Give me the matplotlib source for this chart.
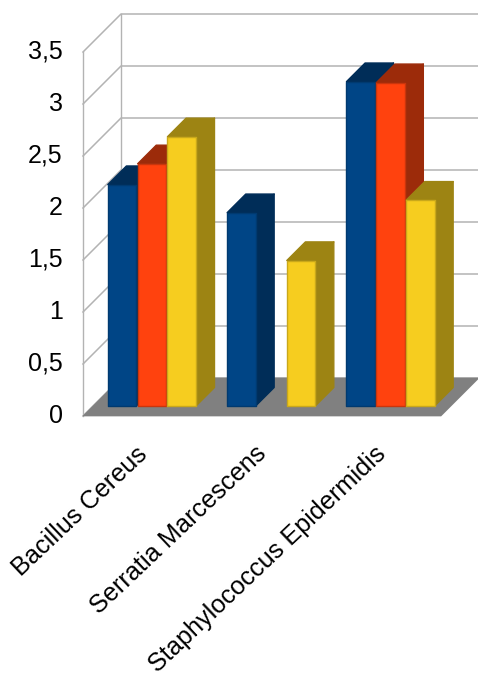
import matplotlib
matplotlib.use("Agg")
import matplotlib.pyplot as plt
import numpy as np
from matplotlib.patches import Polygon

plt.rcParams['font.family'] = ['Liberation Sans', 'DejaVu Sans']

# values per species and staining series, gap where nothing was measured
categories = ['Bacillus Cereus', 'Serratia Marcescens', 'Staphylococcus Epidermidis']
series_a = [2.13, 1.86, 3.12]
series_b = [2.33, np.nan, 3.11]
series_c = [2.59, 1.40, 1.98]
y_ticks = [0, 0.5, 1, 1.5, 2, 2.5, 3, 3.5]
y_tick_labels = ['0', '0,5', '1', '1,5', '2', '2,5', '3', '3,5']

face_colors = ['#004586', '#ff420e', '#f6cd1f']
shade_colors = ['#002d58', '#9c2b0a', '#9d8413']
edge_colors = ['#003a70', '#c9350c', '#c9a81a']

W, H = 478, 677
fig = plt.figure(figsize=(W / 100, H / 100), dpi=100)
# the axes frame is the front plane of the 3D box
ax = fig.add_axes([83 / W, 1 - 416 / H, 358 / W, 364 / H])
ax.set_xlim(0, 3)
ax.set_ylim(0, 3.5)
ax.axis('off')

# depth of the box in data units along each axis (38 px on screen)
DX = 38 / (358 / 3)
DY = 38 / (364 / 3.5)


def proj(x, y, d=0.0):
    return (x + d * DX, y + d * DY)


def poly(points, **kw):
    p = Polygon(points, closed=True, clip_on=False, **kw)
    ax.add_patch(p)


grid_color = '#b3b3b3'
for v in y_ticks:
    ax.plot(*zip(proj(0, v, 0), proj(0, v, 1), proj(3, v, 1)),
            color=grid_color, lw=1.1, clip_on=False, zorder=1)
ax.plot(*zip(proj(0, 0, 0), proj(0, 3.5, 0)), color=grid_color, lw=1.0, clip_on=False, zorder=1)
ax.plot(*zip(proj(0, 0, 1), proj(0, 3.5, 1)), color=grid_color, lw=1.0, clip_on=False, zorder=1)

# floor
poly([proj(0, 0, 0), proj(3, 0, 0), proj(3, 0, 1), proj(0, 0, 1)],
     facecolor='#808080', edgecolor='#808080', lw=0.5, zorder=2)

# bars stand in the middle of the depth, between d0 and d1
bar_pitch = 0.25
bar_w = 0.238
d0, d1 = 0.26, 0.75
z = 3
for i in range(len(categories)):
    for j, vals in enumerate([series_a, series_b, series_c]):
        v = vals[i]
        if np.isnan(v):
            continue
        x0 = i + 0.5 + (j - 1.5) * bar_pitch
        x1 = x0 + bar_w
        # side and top faces first, then the front
        poly([proj(x1, 0, d0), proj(x1, 0, d1), proj(x1, v, d1), proj(x1, v, d0)],
             facecolor=shade_colors[j], edgecolor=shade_colors[j], lw=1, joinstyle='round', zorder=z)
        poly([proj(x0, v, d0), proj(x1, v, d0), proj(x1, v, d1), proj(x0, v, d1)],
             facecolor=shade_colors[j], edgecolor=shade_colors[j], lw=1, joinstyle='round', zorder=z)
        poly([proj(x0, 0, d0), proj(x1, 0, d0), proj(x1, v, d0), proj(x0, v, d0)],
             facecolor=face_colors[j], edgecolor=edge_colors[j], lw=1, joinstyle='round', zorder=z + 1)
        z += 2

# tick labels drawn by hand because the frame is switched off
for v, label in zip(y_ticks, y_tick_labels):
    ax.annotate(label, xy=(0, v), xytext=(-14.5, 0), textcoords='offset points',
                ha='right', va='center', fontsize=18, color='black', annotation_clip=False)

for i, name in enumerate(categories):
    ax.annotate(name, xy=(i + 0.5, 0), xytext=(-5.5, -18.5), textcoords='offset points',
                ha='right', va='top', rotation=43.5, rotation_mode='anchor',
                fontsize=18.2, color='black', annotation_clip=False)

fig.savefig('out.png', dpi=100)
